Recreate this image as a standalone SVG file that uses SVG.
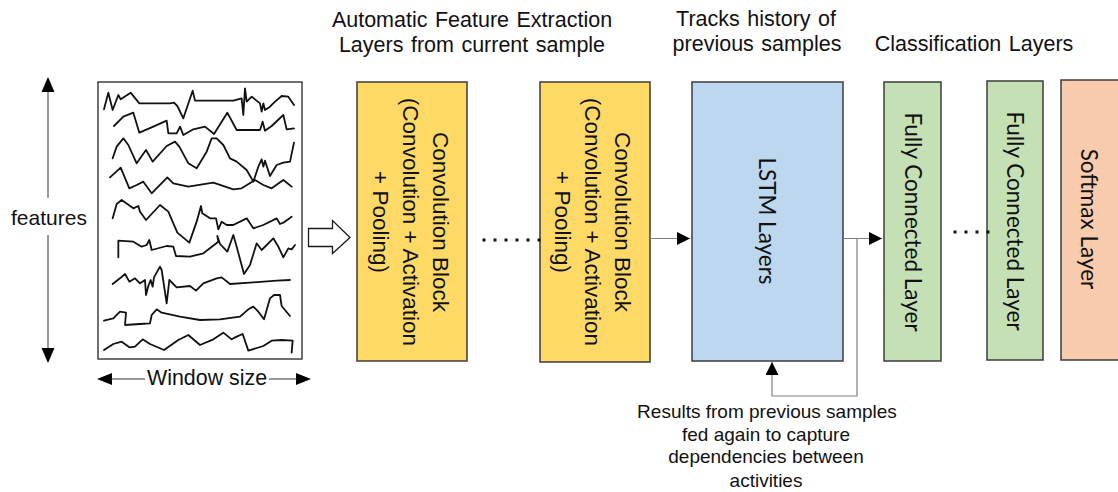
<svg xmlns="http://www.w3.org/2000/svg" width="1118" height="492" viewBox="0 0 1118 492">
  <style>
    .lbl { font-family: "Liberation Sans", Arial, sans-serif; fill: #111; }
    .title { font-size: 21.5px; text-anchor: middle; word-spacing: 1.5px; }
    .blk { stroke: #3c3c3c; stroke-width: 1.5; }
    .conv { fill: #FFD966; }
    .lstm { fill: #BDD7EE; }
    .fc { fill: #C5E0B4; }
    .soft { fill: #F8CBAD; }
    .vtxt { font-family: "Liberation Sans", Arial, sans-serif; font-size: 22.5px; text-anchor: middle; fill: #111; }
    .ctxt { font-family: Lato, "Open Sans", sans-serif; font-size: 22.5px; text-anchor: middle; fill: #111; }
    .conn { stroke: #808080; stroke-width: 1.2; fill: none; }
    .dim { stroke: #333; stroke-width: 1; fill: none; }
    .sig { stroke: #111; stroke-width: 5.4; fill: none; stroke-linejoin: round; stroke-linecap: round; }
    .dots { stroke: #111; stroke-width: 3; stroke-dasharray: 0 11; stroke-linecap: square; fill: none; }
  </style>
  <defs>
    <marker id="arrow" markerUnits="userSpaceOnUse" markerWidth="14" markerHeight="14" refX="13" refY="6.5" orient="auto">
      <path d="M0,0 L13,6.5 L0,13 Z" fill="#000"/>
    </marker>
  </defs>

  <!-- headings -->
  <g id="headings" class="lbl">
    <text class="title" x="472" y="27">Automatic Feature Extraction</text>
    <text class="title" x="472" y="52">Layers from current sample</text>
    <text class="title" x="756" y="26">Tracks history of</text>
    <text class="title" x="757" y="51">previous samples</text>
    <text class="title" x="974" y="51">Classification Layers</text>
  </g>

  <!-- input window: multichannel sensor signals -->
  <g id="input-window">
    <rect x="98" y="82" width="204" height="277" fill="#fff" stroke="#404040" stroke-width="1.5"/>
    <g transform="translate(0,60) scale(0.33333)" class="sig">
      <polyline points="312,148 325,98 338,150 355,105 362,118 392,98 418,130 510,130 522,128 532,138 550,175 578,92 585,122 700,122 725,115 730,165 735,85 740,125 755,110 780,130 785,155 790,130 795,150 810,140 825,125 845,108 865,110 882,135"/>
      <polyline points="342,198 370,170 400,158 418,218 460,200 500,182 505,220 530,220 540,200 550,225 580,208 615,200 642,222 682,158 710,210 780,210 788,185 795,212 815,198 850,165 860,208 882,205"/>
      <polyline points="338,295 350,260 370,235 385,255 410,310 438,270 458,305 500,258 525,245 538,260 565,310 590,325 620,275 635,235 650,235 670,255 690,295 710,305 740,330 760,365 775,320 785,298 790,320 795,302 810,348 830,315 850,308 870,305 882,248"/>
      <polyline points="330,352 362,323 388,385 410,375 430,365 455,400 502,352 520,370 565,380 640,368 700,388 725,385 765,360 790,375 815,385 850,360 875,380"/>
      <polyline points="338,475 350,432 365,420 400,445 415,438 420,455 438,480 480,435 505,455 520,490 532,518 568,548 590,485 603,438 607,460 630,475 648,475 655,508 665,485 680,495 700,495 740,475 760,505 790,495 830,475 840,492 850,488 875,470"/>
      <polyline points="355,592 355,542 400,545 425,560 440,555 448,540 455,570 500,558 520,560 528,588 570,590 610,580 655,545 652,528 660,552 682,575 700,525 710,560 732,642 750,615 770,550 785,570 820,535 835,560 850,592 865,565 875,568 885,555"/>
      <polyline points="338,672 360,655 375,642 388,665 405,655 420,670 435,660 438,705 445,678 452,660 458,680 462,652 480,620 485,630 500,730 508,660 530,682 570,678 588,692 610,670 650,655 665,652 690,672 750,668 830,662 870,660"/>
      <polyline points="312,782 340,775 360,755 378,758 375,795 420,792 450,790 455,765 470,748 485,758 540,770 600,780 660,778 720,770 745,748 760,740 775,755 792,778 800,750 810,715 822,705 840,705 845,738 870,768"/>
      <polyline points="312,870 340,852 365,845 388,862 405,860 428,838 450,852 492,870 535,840 565,825 600,855 640,838 670,818 695,838 710,830 728,822 745,872 790,858 815,842 845,840 878,842 875,878"/>
    </g>
  </g>

  <!-- features dimension arrow -->
  <g id="features-axis">
    <line class="dim" x1="48" y1="91" x2="48" y2="198"/>
    <line class="dim" x1="48" y1="235" x2="48" y2="349"/>
    <polygon points="48,77 41.5,92 54.5,92" fill="#000"/>
    <polygon points="48,363 41.5,348 54.5,348" fill="#000"/>
    <text class="lbl" x="11" y="225" font-size="21">features</text>
  </g>

  <!-- window size dimension arrow -->
  <g id="window-axis">
    <line class="dim" x1="111" y1="379" x2="145" y2="379"/>
    <line class="dim" x1="269" y1="379" x2="297" y2="379"/>
    <polygon points="97,379 112,373 112,385" fill="#000"/>
    <polygon points="311,379 296,373 296,385" fill="#000"/>
    <text class="lbl" x="147" y="385" font-size="21.4">Window size</text>
  </g>

  <!-- hollow input arrow -->
  <g id="input-arrow">
    <polygon points="308.5,228.5 332.5,228.5 332.5,220.5 350,237.5 332.5,253.5 332.5,246.5 308.5,246.5" fill="#fff" stroke="#1a1a1a" stroke-width="1.3" stroke-linejoin="miter"/>
  </g>

  <!-- convolution blocks -->
  <g id="conv-block-1">
    <rect class="blk conv" x="357" y="82" width="110" height="279"/>
    <text class="vtxt" transform="translate(433,222) rotate(90)">Convolution Block</text>
    <text class="vtxt" transform="translate(403,222) rotate(90)">(Convolution + Activation</text>
    <text class="vtxt" transform="translate(373,222) rotate(90)">+ Pooling)</text>
  </g>
  <g id="conv-block-2">
    <rect class="blk conv" x="540" y="82" width="110" height="280"/>
    <text class="vtxt" transform="translate(615,222) rotate(90)">Convolution Block</text>
    <text class="vtxt" transform="translate(585,222) rotate(90)">(Convolution + Activation</text>
    <text class="vtxt" transform="translate(555,222) rotate(90)">+ Pooling)</text>
  </g>

  <!-- recurrent stage -->
  <g id="lstm">
    <rect class="blk lstm" x="692" y="82" width="151" height="279"/>
    <text class="ctxt" transform="translate(759,221) rotate(90)">LSTM Layers</text>
  </g>

  <!-- classification stage -->
  <g id="fc-1">
    <rect class="blk fc" x="884" y="82" width="57" height="279"/>
    <text class="ctxt" transform="translate(905,222) rotate(90)">Fully Connected Layer</text>
  </g>
  <g id="fc-2">
    <rect class="blk fc" x="987" y="81" width="56" height="279"/>
    <text class="ctxt" transform="translate(1007,221) rotate(90)">Fully Connected Layer</text>
  </g>
  <g id="softmax">
    <rect class="blk soft" x="1061" y="80" width="70" height="280"/>
    <text class="ctxt" transform="translate(1081,219) rotate(90)">Softmax Layer</text>
  </g>

  <!-- connectors -->
  <g id="connectors">
    <line class="dots" x1="484" y1="240" x2="540.5" y2="240"/>
    <line class="dots" x1="955" y1="232" x2="989.5" y2="232"/>
    <line class="conn" x1="650" y1="238.5" x2="690" y2="238.5" marker-end="url(#arrow)"/>
    <line class="conn" x1="843" y1="238.5" x2="882" y2="238.5" marker-end="url(#arrow)"/>
    <polyline class="conn" points="857,238.5 857,396 772,396 772,362" marker-end="url(#arrow)"/>
  </g>

  <!-- feedback caption -->
  <g id="feedback-note" class="lbl" font-size="19" text-anchor="middle">
    <text x="767" y="417.5">Results from previous samples</text>
    <text x="766" y="440.5">fed again to capture</text>
    <text x="766" y="463">dependencies between</text>
    <text x="766" y="486.5">activities</text>
  </g>
</svg>
